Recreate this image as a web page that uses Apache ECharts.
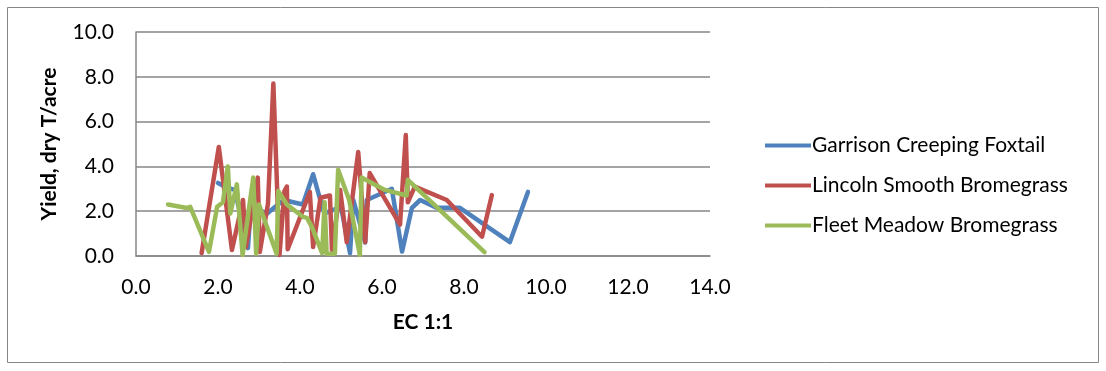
<!DOCTYPE html>
<html><head><meta charset="utf-8">
<script src="https://cdn.jsdelivr.net/npm/echarts@6/dist/echarts.min.js"></script>
<style>html,body{margin:0;padding:0;background:#fff}#c{width:1106px;height:371px}</style>
</head><body><div id="c"></div>
<script>
const seriesNames = ['Garrison Creeping Foxtail','Lincoln Smooth Bromegrass','Fleet Meadow Bromegrass'];
const xTitle = 'EC 1:1';
const yTitle = 'Yield, dry T/acre';
const garrison = [[2.0,3.26],[2.22,3.05],[2.41,2.95],[2.73,0.35],[2.8,2.2],[3.2,1.9],[3.3,2.05],[3.6,2.5],[4.07,2.3],[4.32,3.65],[4.54,2.2],[4.6,1.9],[5.0,2.2],[5.22,0.13],[5.3,2.5],[5.59,0.6],[5.63,2.5],[6.24,3.0],[6.49,0.2],[6.73,2.15],[6.93,2.5],[7.34,2.15],[7.9,2.15],[9.12,0.62],[9.56,2.86]];
const lincoln = [[1.6,0.13],[2.02,4.87],[2.34,0.27],[2.61,2.5],[2.68,0.4],[2.97,3.5],[3.02,0.18],[3.22,2.35],[3.35,7.7],[3.5,0.05],[3.62,2.9],[3.68,3.1],[3.7,0.3],[4.24,2.86],[4.32,0.4],[4.5,2.6],[4.73,2.7],[4.78,0.27],[4.98,2.95],[5.14,0.62],[5.42,4.64],[5.59,0.62],[5.7,3.7],[6.44,1.4],[6.58,5.4],[6.63,2.4],[6.8,3.1],[7.58,2.5],[8.44,0.86],[8.68,2.72]];
const fleet = [[0.78,2.3],[1.24,2.14],[1.32,2.2],[1.78,0.18],[1.98,2.2],[2.12,2.4],[2.24,4.0],[2.3,1.9],[2.46,3.2],[2.6,0.05],[2.86,3.5],[2.93,0.1],[3.0,2.3],[3.43,0.1],[3.47,2.9],[3.68,2.3],[4.07,1.75],[4.17,1.7],[4.29,1.3],[4.54,0.13],[4.6,2.4],[4.65,0.1],[4.85,0.1],[4.93,3.85],[5.2,2.5],[5.46,0.05],[5.5,3.5],[6.07,2.95],[6.6,2.7],[6.63,3.4],[8.5,0.17]];
const colors = ['#4F81BD','#C0504D','#9BBB59'];
const font = 'Lato, Carlito, Calibri, sans-serif';
const chart = echarts.init(document.getElementById('c'), null, {renderer:'canvas'});
const mk = (name, data, i) => ({name, type:'line', data, showSymbol:false, symbol:'none', smooth:false,
  lineStyle:{width:4.5, color:colors[i], join:'round', cap:'round'}, itemStyle:{color:colors[i]}, animation:false});
chart.setOption({
  animation:false,
  graphic:[{type:'rect', shape:{x:7.5,y:7.5,width:1091,height:355}, style:{fill:'none', stroke:'#868686', lineWidth:1}}],
  grid:{left:136, top:32, width:574, height:224, containLabel:false},
  xAxis:{type:'value', min:0, max:14, interval:2, name:xTitle, nameLocation:'middle', nameGap:56,
    nameTextStyle:{fontFamily:font, fontWeight:'bold', fontSize:21, color:'#000'},
    axisLine:{show:true, lineStyle:{color:'#868686', width:1.5}}, axisTick:{show:false},
    splitLine:{show:false},
    axisLabel:{formatter:v=>v.toFixed(1), fontFamily:font, fontSize:21, color:'#000', margin:21}},
  yAxis:{type:'value', min:0, max:10, interval:2, name:yTitle, nameLocation:'middle', nameGap:76,
    nameTextStyle:{fontFamily:font, fontWeight:'bold', fontSize:21, color:'#000'},
    axisLine:{show:true, lineStyle:{color:'#868686', width:1.5}}, axisTick:{show:false},
    splitLine:{show:true, lineStyle:{color:'#868686', width:1.5}},
    axisLabel:{formatter:v=>v.toFixed(1), fontFamily:font, fontSize:21, color:'#000', margin:22}},
  legend:{orient:'vertical', left:760, top:130, itemGap:19, itemWidth:46, itemHeight:4, icon:'rect',
    textStyle:{fontFamily:font, fontSize:21, color:'#000', padding:[0,0,0,-4]}, data:seriesNames},
  series:[mk(seriesNames[0], garrison, 0), mk(seriesNames[1], lincoln, 1), mk(seriesNames[2], fleet, 2)]
});
</script></body></html>
